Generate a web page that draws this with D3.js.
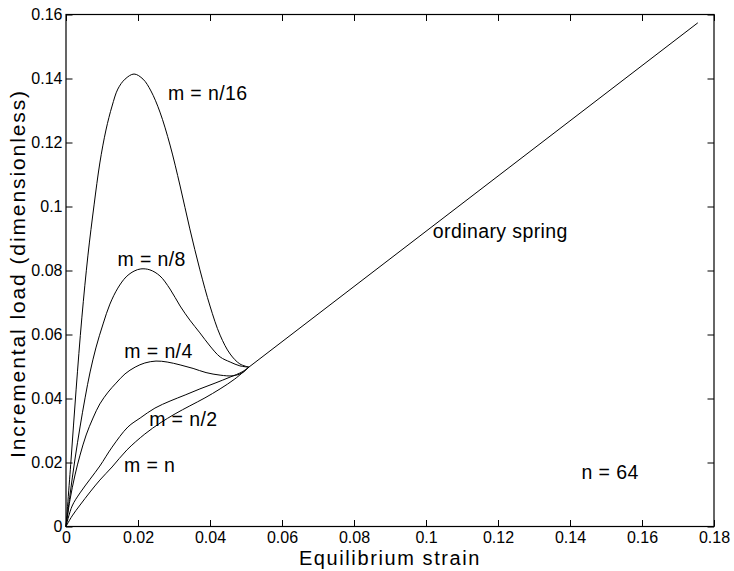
<!DOCTYPE html>
<html>
<head>
<meta charset="utf-8">
<script src="https://cdn.jsdelivr.net/npm/d3@7/dist/d3.min.js"></script>
<style>
  html, body { margin: 0; padding: 0; background: #fff; }
  svg { display: block; font-family: "Liberation Sans", Arial, Helvetica, sans-serif; }
</style>
</head>
<body>
<svg id="chart" width="734" height="571"></svg>
<script>
// Axis ticks
const xTicks = [0, 0.02, 0.04, 0.06, 0.08, 0.1, 0.12, 0.14, 0.16, 0.18];
const yTicks = [0, 0.02, 0.04, 0.06, 0.08, 0.1, 0.12, 0.14, 0.16];

// m = n/16
const strainN16 = [0, 0.0014, 0.0028, 0.0044, 0.0061, 0.0078, 0.0094, 0.0111, 0.0128, 0.0144, 0.0164, 0.0189,
                   0.0214, 0.0236, 0.0261, 0.0289, 0.0317, 0.0344, 0.0372, 0.0400, 0.0428, 0.0456, 0.0483, 0.0508];
const loadN16   = [0, 0.0208, 0.0427, 0.0652, 0.0848, 0.1005, 0.1136, 0.1239, 0.1314, 0.1367, 0.1398, 0.1414,
                   0.1398, 0.1361, 0.1295, 0.1192, 0.1064, 0.0930, 0.0802, 0.0689, 0.0598, 0.0539, 0.0508, 0.0498];

// m = n/8
const strainN8 = [0, 0.0011, 0.0025, 0.0039, 0.0053, 0.0067, 0.0083, 0.0103, 0.0122, 0.0144, 0.0167, 0.0189,
                  0.0208, 0.0233, 0.0261, 0.0289, 0.0317, 0.0344, 0.0372, 0.0400, 0.0428, 0.0456, 0.0483, 0.0508];
const loadN8   = [0, 0.0098, 0.0211, 0.0311, 0.0402, 0.0483, 0.0558, 0.0633, 0.0695, 0.0745, 0.0780, 0.0798,
                  0.0805, 0.0802, 0.0783, 0.0742, 0.0689, 0.0645, 0.0605, 0.0564, 0.0530, 0.0514, 0.0502, 0.0498];

// m = n/4
const strainN4 = [0, 0.0011, 0.0025, 0.0039, 0.0056, 0.0075, 0.0094, 0.0117, 0.0139, 0.0164, 0.0192, 0.0219,
                  0.0250, 0.0281, 0.0317, 0.0353, 0.0389, 0.0428, 0.0464, 0.0489, 0.0508];
const loadN4   = [0, 0.0083, 0.0161, 0.0223, 0.0286, 0.0339, 0.0383, 0.0420, 0.0448, 0.0477, 0.0498, 0.0511,
                  0.0517, 0.0514, 0.0505, 0.0494, 0.0481, 0.0473, 0.0471, 0.0480, 0.0498];

// m = n/2
const strainN2 = [0, 0.0017, 0.0039, 0.0067, 0.0094, 0.0128, 0.0172, 0.0206, 0.0247, 0.0289, 0.0331, 0.0372,
                  0.0414, 0.0456, 0.0489, 0.0508];
const loadN2   = [0, 0.0064, 0.0105, 0.0148, 0.0189, 0.0248, 0.0311, 0.0339, 0.0370, 0.0392, 0.0411, 0.0430,
                  0.0448, 0.0467, 0.0483, 0.0498];

// m = n
const strainN1 = [0, 0.0017, 0.0039, 0.0067, 0.0094, 0.0128, 0.0169, 0.0219, 0.0261, 0.0303, 0.0344, 0.0386,
                  0.0428, 0.0469, 0.0508];
const loadN1   = [0, 0.0033, 0.0067, 0.0108, 0.0145, 0.0186, 0.0239, 0.0289, 0.0323, 0.0352, 0.0377, 0.0402,
                  0.0430, 0.0461, 0.0498];

// ordinary spring
const strainSpring = [0.0508, 0.1755];
const loadSpring   = [0.0498, 0.1574];

// curve annotations
const labelText   = ["m = n/16", "m = n/8", "m = n/4", "m = n/2", "m = n", "ordinary spring", "n = 64"];
const labelStrain = [0.0283, 0.0143, 0.0162, 0.0231, 0.0161, 0.1019, 0.1432];
const labelLoad   = [0.1334, 0.0815, 0.0526, 0.0315, 0.0169, 0.0902, 0.0148];

const svg = d3.select("#chart");
const W = 734, H = 571;
const mLeft = 66, mRight = 714, mTop = 14.5, mBottom = 526.5;

svg.append("rect").attr("width", W).attr("height", H).attr("fill", "#fff");

const x = d3.scaleLinear().domain([0, 0.18]).range([mLeft, mRight]);
const y = d3.scaleLinear().domain([0, 0.16]).range([mBottom, mTop]);

const tickLen = 6.5;
const tickFont = "16px";

// axes: ticks point inward, mirrored on all four sides
const axisBottom = d3.axisBottom(x).tickValues(xTicks).tickSizeInner(-tickLen).tickSizeOuter(0)
  .tickPadding(5).tickFormat(d3.format("~g"));
const axisTop = d3.axisTop(x).tickValues(xTicks).tickSizeInner(-tickLen).tickSizeOuter(0).tickFormat("");
const axisLeft = d3.axisLeft(y).tickValues(yTicks).tickSizeInner(-tickLen).tickSizeOuter(0)
  .tickPadding(3.5).tickFormat(d3.format("~g"));
const axisRight = d3.axisRight(y).tickValues(yTicks).tickSizeInner(-tickLen).tickSizeOuter(0).tickFormat("");

function styleAxis(g) {
  g.select(".domain").remove();
  g.selectAll(".tick line").attr("stroke", "#000").attr("stroke-width", 1);
  g.selectAll(".tick text").attr("fill", "#000").style("font-size", tickFont)
    .style("font-family", "'Liberation Sans', Arial, Helvetica, sans-serif");
}

svg.append("g").attr("transform", `translate(0,${mBottom})`).call(axisBottom).call(styleAxis);
svg.append("g").attr("transform", `translate(0,${mTop})`).call(axisTop).call(styleAxis);
svg.append("g").attr("transform", `translate(${mLeft},0)`).call(axisLeft).call(styleAxis);
svg.append("g").attr("transform", `translate(${mRight},0)`).call(axisRight).call(styleAxis);

// plot frame
svg.append("rect")
  .attr("x", mLeft).attr("y", mTop)
  .attr("width", mRight - mLeft).attr("height", mBottom - mTop)
  .attr("fill", "none").attr("stroke", "#000").attr("stroke-width", 1.2);

// curves
const series = [
  [strainN16, loadN16],
  [strainN8, loadN8],
  [strainN4, loadN4],
  [strainN2, loadN2],
  [strainN1, loadN1],
  [strainSpring, loadSpring]
].map(([s, l]) => s.map((v, i) => [v, l[i]]));

const line = d3.line()
  .x(d => x(d[0]))
  .y(d => y(d[1]))
  .curve(d3.curveCatmullRom.alpha(0.5));

svg.append("g").selectAll("path")
  .data(series)
  .join("path")
  .attr("d", line)
  .attr("fill", "none")
  .attr("stroke", "#000")
  .attr("stroke-width", 1);

// annotations
svg.append("g").selectAll("text")
  .data(labelText)
  .join("text")
  .attr("x", (d, i) => x(labelStrain[i]))
  .attr("y", (d, i) => y(labelLoad[i]))
  .attr("fill", "#000")
  .style("font-size", "19.5px")
  .style("letter-spacing", "0.4px")
  .text(d => d);

// axis titles
svg.append("text")
  .attr("x", (mLeft + mRight) / 2)
  .attr("y", 565)
  .attr("text-anchor", "middle")
  .attr("fill", "#000")
  .style("font-size", "20px")
  .style("letter-spacing", "1.6px")
  .text("Equilibrium strain");

svg.append("text")
  .attr("transform", `translate(25,${(mTop + mBottom) / 2 + 3}) rotate(-90)`)
  .attr("text-anchor", "middle")
  .attr("fill", "#000")
  .style("font-size", "21px")
  .style("letter-spacing", "1.9px")
  .text("Incremental load (dimensionless)");
</script>
</body>
</html>
